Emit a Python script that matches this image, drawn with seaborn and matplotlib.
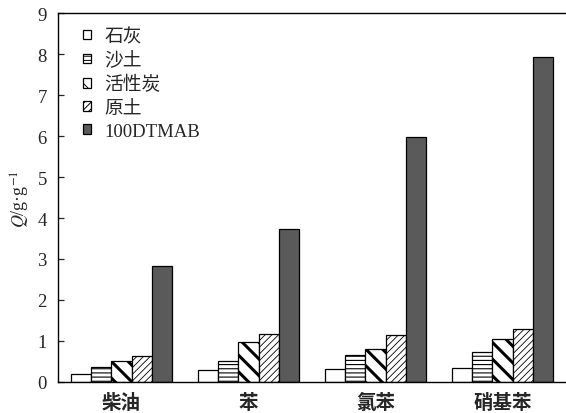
import matplotlib
matplotlib.use('Agg')
import matplotlib.pyplot as plt
import numpy as np
import pandas as pd
import seaborn as sns

# 吸附量 Q (g/g)
categories = ['柴油', '苯', '氯苯', '硝基苯']
sorbents = ['石灰', '沙土', '活性炭', '原土', '100DTMAB']
q_shihui = [0.20, 0.28, 0.32, 0.34]
q_shatu = [0.37, 0.51, 0.66, 0.72]
q_huoxingtan = [0.51, 0.97, 0.81, 1.06]
q_yuantu = [0.63, 1.17, 1.15, 1.30]
q_dtmab = [2.84, 3.72, 5.98, 7.94]
yticks = [0, 1, 2, 3, 4, 5, 6, 7, 8, 9]

values = [q_shihui, q_shatu, q_huoxingtan, q_yuantu, q_dtmab]
rows = []
for name, vals in zip(sorbents, values):
    for cat, v in zip(categories, vals):
        rows.append({'cat': cat, 'sorbent': name, 'Q': v})
df = pd.DataFrame(rows)

sns.set_style('ticks')
plt.rcParams['font.family'] = ['Liberation Serif', 'Noto Sans CJK SC']
plt.rcParams['mathtext.fontset'] = 'stix'
plt.rcParams['hatch.linewidth'] = 0.7

fig = plt.figure(figsize=(5.66, 4.14), dpi=100)
ax = fig.add_axes([0.1025, 0.075, 0.8975, 0.891])

colors = ['white', 'white', 'white', 'white', '#5a5a5a']
sns.barplot(data=df, x='cat', y='Q', hue='sorbent', order=categories,
            hue_order=sorbents, palette=colors, width=0.8,
            edgecolor='black', linewidth=0.9, saturation=1, legend=False, ax=ax)

hatches = ['', '----', '\\\\', '/////', '']
hatch_lw = [0.7, 0.8, 2.2, 0.6, 0.7]
for cont, h, lw in zip(ax.containers, hatches, hatch_lw):
    for p in cont.patches:
        p.set_hatch(h)
        if hasattr(p, 'set_hatch_linewidth'):
            p.set_hatch_linewidth(lw)

ax.set_xlim(-0.5, 3.5)
ax.set_ylim(0, 9)
ax.set_yticks(yticks)
ax.set_xlabel('')
ax.set_ylabel(r'$Q$/g·g$^{-1}$', fontsize=13, labelpad=4)
ax.tick_params(axis='y', direction='in', length=4, width=0.9, pad=8, labelsize=13.5)
ax.tick_params(axis='x', length=0, pad=8, labelsize=14)
for lab in ax.get_xticklabels():
    lab.set_fontweight('bold')

for s in ['left', 'top', 'bottom']:
    ax.spines[s].set_linewidth(1.0)
    ax.spines[s].set_color('black')
ax.spines['right'].set_visible(False)

ax.legend(ax.containers, sorbents, loc='upper left', bbox_to_anchor=(0.035, 0.98),
          frameon=False, fontsize=13.5, handlelength=0.42, handleheight=0.42,
          handletextpad=0.72, labelspacing=0.33, borderaxespad=0)

fig.savefig('out.png', dpi=100)
